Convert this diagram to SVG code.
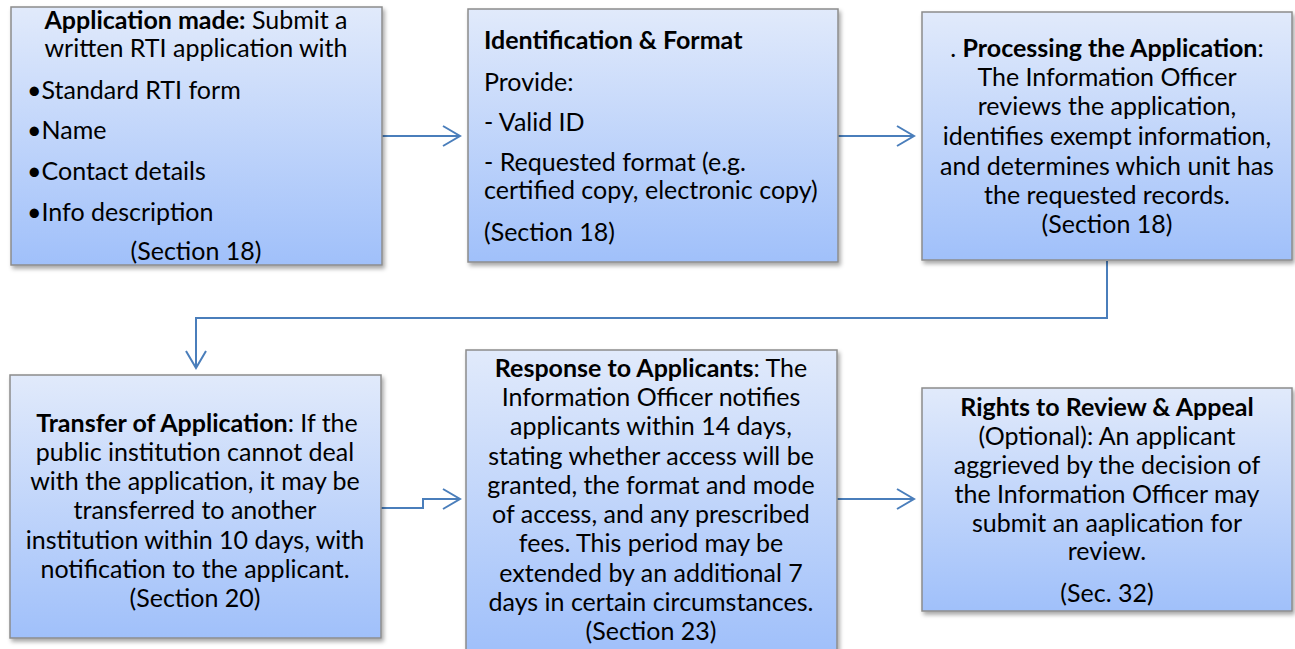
<svg xmlns="http://www.w3.org/2000/svg" width="1295" height="649" viewBox="0 0 1295 649">
<defs>
<linearGradient id="g" x1="0" y1="0" x2="0" y2="1">
<stop offset="0" stop-color="#e1eafb"/>
<stop offset="1" stop-color="#a0c0fa"/>
</linearGradient>
<filter id="sh" x="-5%" y="-5%" width="115%" height="115%">
<feDropShadow dx="2" dy="3" stdDeviation="2" flood-color="#000" flood-opacity="0.35"/>
</filter>
<marker id="ah" markerWidth="24" markerHeight="24" refX="19" refY="12" orient="auto" markerUnits="userSpaceOnUse">
<path d="M2,2 L19,12 L2,22" fill="none" stroke="#4a7ebb" stroke-width="2"/>
</marker>
</defs>
<style>
.box{fill:url(#g);stroke:#8c8c8c;stroke-width:1.5;filter:url(#sh)}
text{font-family:Lato,"Open Sans","Liberation Sans",sans-serif;font-size:25px;fill:#000}
.c{text-anchor:middle}
.b{font-weight:bold}
.con{fill:none;stroke:#4a7ebb;stroke-width:2;marker-end:url(#ah)}
</style>
<rect width="1295" height="649" fill="#fff"/>
<g id="connectors">
<path class="con" d="M382,136 L460,136"/>
<path class="con" d="M838,136 L914,136"/>
<path class="con" d="M1107,261 L1107,318 L196,318 L196,368"/>
<path class="con" d="M381,508 L423,508 L423,499 L460,499"/>
<path class="con" d="M837,499 L914,499"/>
</g>
<g id="n1">
<rect class="box" x="11" y="7" width="371" height="258"/>
<text class="c" x="196" y="29"><tspan class="b">Application made:</tspan> Submit a</text>
<text class="c" x="196" y="57">written RTI application with</text>
<text x="27" y="99">•Standard RTI form</text>
<text x="27" y="139">•Name</text>
<text x="27" y="180">•Contact details</text>
<text x="27" y="221">•Info description</text>
<text class="c" x="196" y="260">(Section 18)</text>
</g>
<g id="n2">
<rect class="box" x="468" y="9" width="370" height="253"/>
<text class="b" x="484" y="49">Identification &amp; Format</text>
<text x="484" y="91">Provide:</text>
<text x="484" y="131">- Valid ID</text>
<text x="484" y="171">- Requested format (e.g.</text>
<text x="484" y="199">certified copy, electronic copy)</text>
<text x="484" y="241">(Section 18)</text>
</g>
<g id="n3">
<rect class="box" x="922" y="12" width="370" height="248"/>
<text class="c" x="1107" y="57">. <tspan class="b">Processing the Application</tspan>:</text>
<text class="c" x="1107" y="86">The Information Officer</text>
<text class="c" x="1107" y="115">reviews the application,</text>
<text class="c" x="1107" y="145">identifies exempt information,</text>
<text class="c" x="1107" y="175">and determines which unit has</text>
<text class="c" x="1107" y="204">the requested records.</text>
<text class="c" x="1107" y="233">(Section 18)</text>
</g>
<g id="n4">
<rect class="box" x="10" y="375" width="371" height="263"/>
<text class="c" x="197" y="432"><tspan class="b">Transfer of Application</tspan>: If the</text>
<text class="c" x="195" y="461">public institution cannot deal</text>
<text class="c" x="195" y="490">with the application, it may be</text>
<text class="c" x="195" y="519">transferred to another</text>
<text class="c" x="195" y="549">institution within 10 days, with</text>
<text class="c" x="195" y="578">notification to the applicant.</text>
<text class="c" x="195" y="607">(Section 20)</text>
</g>
<g id="n5">
<rect class="box" x="466" y="350" width="371" height="302"/>
<text class="c" x="651" y="377"><tspan class="b">Response to Applicants</tspan>: The</text>
<text class="c" x="651" y="406">Information Officer notifies</text>
<text class="c" x="651" y="435">applicants within 14 days,</text>
<text class="c" x="651" y="465">stating whether access will be</text>
<text class="c" x="651" y="494">granted, the format and mode</text>
<text class="c" x="651" y="523">of access, and any prescribed</text>
<text class="c" x="651" y="552">fees. This period may be</text>
<text class="c" x="651" y="582">extended by an additional 7</text>
<text class="c" x="651" y="611">days in certain circumstances.</text>
<text class="c" x="651" y="640">(Section 23)</text>
</g>
<g id="n6">
<rect class="box" x="922" y="388" width="370" height="223"/>
<text class="c b" x="1107" y="416">Rights to Review &amp; Appeal</text>
<text class="c" x="1107" y="445">(Optional): An applicant</text>
<text class="c" x="1107" y="474">aggrieved by the decision of</text>
<text class="c" x="1107" y="503">the Information Officer may</text>
<text class="c" x="1107" y="532">submit an aaplication for</text>
<text class="c" x="1107" y="560">review.</text>
<text class="c" x="1107" y="602">(Sec. 32)</text>
</g>
</svg>
